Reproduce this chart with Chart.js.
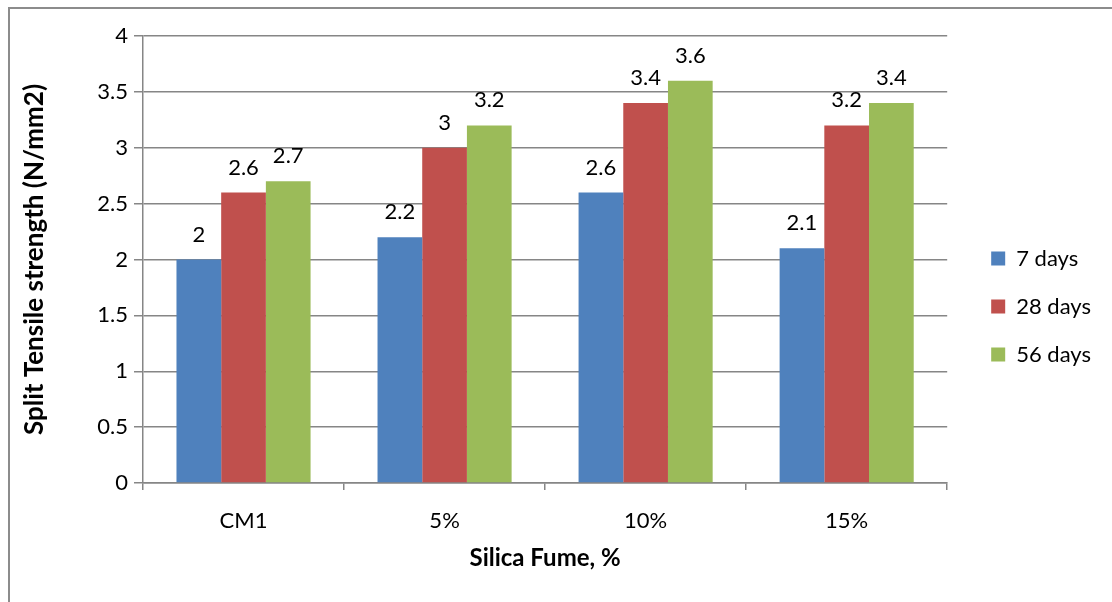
<!DOCTYPE html>
<html>
<head>
<meta charset="utf-8">
<title>Split Tensile strength</title>
<script src="https://cdn.jsdelivr.net/npm/chart.js@4/dist/chart.umd.min.js"></script>
<style>
  html, body { margin: 0; padding: 0; background: #fff; }
  #wrap { position: relative; width: 1112px; height: 602px; }
</style>
</head>
<body>
<div id="wrap"><canvas id="strengthChart" width="1112" height="602"></canvas></div>
<script>
// categories and series (N/mm2)
const mixes = ['CM1', '5%', '10%', '15%'];
const days7 = [2, 2.2, 2.6, 2.1];
const days28 = [2.6, 3, 3.4, 3.2];
const days56 = [2.7, 3.2, 3.6, 3.4];
const seriesNames = ['7 days', '28 days', '56 days'];
const yTicks = [0, 0.5, 1, 1.5, 2, 2.5, 3, 3.5, 4];

const FONT = 'Lato, "Open Sans", sans-serif';
const GRID = '#868686';

// frame round the whole chart area
const frame = {
  id: 'frame',
  beforeDraw(chart) {
    const c = chart.ctx;
    c.save();
    c.strokeStyle = '#8c8c8c';
    c.lineWidth = 2;
    c.strokeRect(9, 8, 1200, 700);
    c.restore();
  }
};

// push the legend a little away from the plot
const legendGap = {
  id: 'legendGap',
  afterLayout(chart) {
    const lg = chart.legend;
    if (lg) {
      lg.left += 18;
      lg.right += 18;
    }
  }
};

// value printed above each bar
const barValues = {
  id: 'barValues',
  afterDatasetsDraw(chart) {
    const c = chart.ctx;
    c.save();
    c.font = '22px ' + FONT;
    c.fillStyle = '#000';
    c.textAlign = 'center';
    c.textBaseline = 'bottom';
    chart.data.datasets.forEach((ds, i) => {
      chart.getDatasetMeta(i).data.forEach((bar, j) => {
        c.fillText(String(ds.data[j]), bar.x, bar.y - 14);
      });
    });
    c.restore();
  }
};

new Chart(document.getElementById('strengthChart'), {
  type: 'bar',
  data: {
    labels: mixes,
    datasets: [
      { label: seriesNames[0], data: days7, backgroundColor: '#4F81BD' },
      { label: seriesNames[1], data: days28, backgroundColor: '#C0504D' },
      { label: seriesNames[2], data: days56, backgroundColor: '#9BBB59' }
    ]
  },
  options: {
    responsive: false,
    animation: false,
    layout: { padding: { top: 36, left: 14, right: 29, bottom: 25 } },
    datasets: { bar: { categoryPercentage: 0.667, barPercentage: 1.0 } },
    plugins: {
      tooltip: { enabled: false },
      legend: {
        position: 'right',
        labels: {
          font: { family: FONT, size: 22 },
          color: '#000',
          boxWidth: 14,
          boxHeight: 14,
          padding: 26
        }
      }
    },
    scales: {
      x: {
        afterFit(scale) { scale.height = 94; },
        grid: { drawOnChartArea: false, drawTicks: true, tickLength: 7, color: GRID, lineWidth: 1.5 },
        border: { color: GRID, width: 1.5 },
        ticks: { font: { family: FONT, size: 22 }, color: '#000', padding: 18 },
        title: {
          display: true,
          text: 'Silica Fume, %',
          font: { family: FONT, size: 24, weight: 'bold' },
          color: '#000',
          padding: { top: 4 }
        }
      },
      y: {
        min: 0,
        max: 4,
        afterFit(scale) { scale.width = 129; },
        afterBuildTicks(scale) { scale.ticks = yTicks.map(v => ({ value: v })); },
        grid: { color: GRID, lineWidth: 1.5, tickLength: 9 },
        border: { color: GRID, width: 1.5 },
        ticks: { font: { family: FONT, size: 22 }, color: '#000', padding: 6, callback: v => String(v) },
        title: {
          display: true,
          text: 'Split Tensile strength (N/mm2)',
          font: { family: FONT, size: 26, weight: 'bold' },
          color: '#000',
          padding: { top: 5, bottom: 4 }
        }
      }
    }
  },
  plugins: [frame, legendGap, barValues]
});
</script>
</body>
</html>
